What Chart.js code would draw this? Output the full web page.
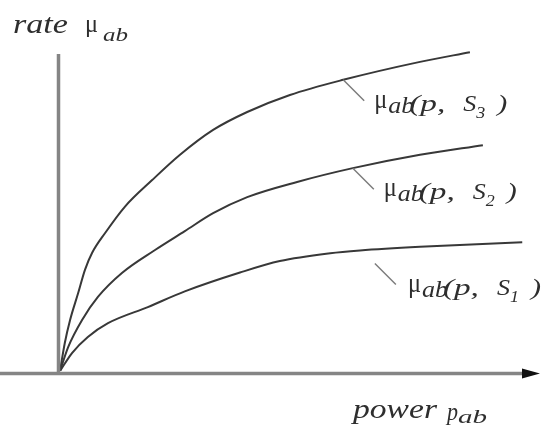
<!DOCTYPE html>
<html>
<head>
<meta charset="utf-8">
<script src="https://cdn.jsdelivr.net/npm/chart.js@4/dist/chart.umd.min.js"></script>
<style>
  html, body { margin: 0; padding: 0; background: #fff; }
  #wrap { width: 542px; height: 428px; position: relative; }
  canvas { display: block; }
</style>
</head>
<body>
<div id="wrap"><canvas id="c" width="542" height="428"></canvas></div>
<script>
// Rate curves mu_ab(p, S) against link power p_ab for three interference states
const powerS3 = [0, 0.10, 0.21, 0.38, 0.52, 0.67, 0.94, 1.35, 1.92, 2.50, 3.19, 3.90, 4.79, 5.90, 7.50, 8.54];
const rateS3  = [0, 0.61, 1.11, 1.70, 2.20, 2.57, 3.00, 3.57, 4.15, 4.70, 5.24, 5.63, 6.00, 6.33, 6.72, 6.93];

const powerS2 = [0, 0.17, 0.46, 0.79, 1.29, 1.98, 2.60, 3.19, 3.90, 4.94, 6.10, 7.50, 8.81];
const rateS2  = [0, 0.52, 1.11, 1.61, 2.13, 2.63, 3.04, 3.43, 3.78, 4.11, 4.41, 4.70, 4.91];

const powerS1 = [0, 0.25, 0.58, 1.00, 1.83, 2.60, 3.75, 4.58, 5.63, 6.25, 7.50, 9.63];
const rateS1  = [0, 0.39, 0.74, 1.04, 1.39, 1.73, 2.14, 2.39, 2.56, 2.62, 2.70, 2.80];

const stateSubscripts = ['3', '2', '1'];
const leaderPower = [5.90, 6.10, 6.56];   // where each callout line leaves its curve

const CURVE_COLOR = '#383838';
const TEXT_COLOR = '#2e2e2e';
const SERIF = '"Liberation Serif", "Times New Roman", serif';

function toPoints(xs, ys) { return xs.map((x, i) => ({ x: x, y: ys[i] })); }

// Draw a text run, optionally squeezed/stretched to a given width
function run(ctx, text, x, y, size, italic, width) {
  ctx.save();
  ctx.font = (italic ? 'italic ' : '') + size + 'px ' + SERIF;
  ctx.textAlign = 'left';
  ctx.textBaseline = 'alphabetic';
  const w = ctx.measureText(text).width;
  ctx.translate(x, y);
  if (width) ctx.scale(width / w, 1);
  ctx.fillText(text, 0, 0);
  ctx.restore();
}

// Linear lookup of a curve's rate at a given power
function rateAt(xs, ys, p) {
  for (let i = 1; i < xs.length; i++) {
    if (p <= xs[i]) {
      const t = (p - xs[i - 1]) / (xs[i] - xs[i - 1]);
      return ys[i - 1] + t * (ys[i] - ys[i - 1]);
    }
  }
  return ys[ys.length - 1];
}

const axesAndLabels = {
  id: 'axesAndLabels',
  afterDatasetsDraw(chart) {
    const ctx = chart.ctx;
    const xs = chart.scales.x, ys = chart.scales.y;
    const x0 = xs.getPixelForValue(0);
    const y0 = ys.getPixelForValue(0);

    // axes
    ctx.save();
    ctx.strokeStyle = '#858585';
    ctx.lineWidth = 3.5;
    ctx.lineCap = 'butt';
    ctx.beginPath();
    ctx.moveTo(x0 - 1.5, 54);
    ctx.lineTo(x0 - 1.5, y0 + 2.5);
    ctx.stroke();
    ctx.beginPath();
    ctx.moveTo(0, y0 + 2.5);
    ctx.lineTo(530, y0 + 2.5);
    ctx.stroke();
    // arrowhead on the power axis
    ctx.fillStyle = '#111';
    ctx.beginPath();
    ctx.moveTo(540, y0 + 2.5);
    ctx.lineTo(522, y0 - 2.5);
    ctx.lineTo(522, y0 + 7.5);
    ctx.closePath();
    ctx.fill();
    ctx.restore();

    // axis titles
    ctx.save();
    ctx.fillStyle = TEXT_COLOR;
    run(ctx, 'rate', 13, 33, 27, true, 55);
    run(ctx, '\u03bc', 85, 32, 26, false, 13);
    run(ctx, 'ab', 103, 41, 19, true, 25);
    run(ctx, 'power', 353, 418, 27, true, 84);
    run(ctx, 'p', 447, 420, 26, true, 11);
    run(ctx, 'ab', 458, 423, 19, true, 29);
    ctx.restore();

    // callouts
    const series = [[powerS3, rateS3], [powerS2, rateS2], [powerS1, rateS1]];
    const gaps = [0, 0, 14];
    series.forEach((s, i) => {
      const p = leaderPower[i];
      const sx = xs.getPixelForValue(p);
      const sy = ys.getPixelForValue(rateAt(s[0], s[1], p)) + gaps[i];
      const ex = sx + 21, ey = sy + 21;
      ctx.save();
      ctx.strokeStyle = '#7a7a7a';
      ctx.lineWidth = 1.4;
      ctx.beginPath();
      ctx.moveTo(sx, sy);
      ctx.lineTo(ex, ey);
      ctx.stroke();
      ctx.fillStyle = TEXT_COLOR;
      const lx = ex + 10 + (i === 2 ? 2 : 0), ly = ey + 11;
      run(ctx, '\u03bc', lx, ly - 4, 27, false, 13);
      run(ctx, 'ab', lx + 14, ly + 1, 23, true, 26);
      run(ctx, '(p,', lx + 35, ly - 1, 24, true, 36);
      run(ctx, 'S', lx + 89, ly - 1, 23, true, 13);
      run(ctx, stateSubscripts[i], lx + 102, ly + 6, 17, true, 9);
      run(ctx, ')', lx + 123, ly - 1, 24, true, 10);
      ctx.restore();
    });
  }
};

function curve(xs, ys) {
  return {
    data: toPoints(xs, ys),
    borderColor: CURVE_COLOR,
    borderWidth: 2,
    pointRadius: 0,
    fill: false,
    cubicInterpolationMode: 'monotone'
  };
}

new Chart(document.getElementById('c'), {
  type: 'line',
  data: {
    datasets: [curve(powerS3, rateS3), curve(powerS2, rateS2), curve(powerS1, rateS1)]
  },
  options: {
    responsive: false,
    animation: false,
    devicePixelRatio: 1,
    layout: { padding: { left: 60, right: 2, top: 49, bottom: 57 } },
    plugins: { legend: { display: false }, tooltip: { enabled: false } },
    scales: {
      x: { type: 'linear', min: 0, max: 10, display: false },
      y: { type: 'linear', min: 0, max: 7, display: false }
    }
  },
  plugins: [axesAndLabels]
});
</script>
</body>
</html>
